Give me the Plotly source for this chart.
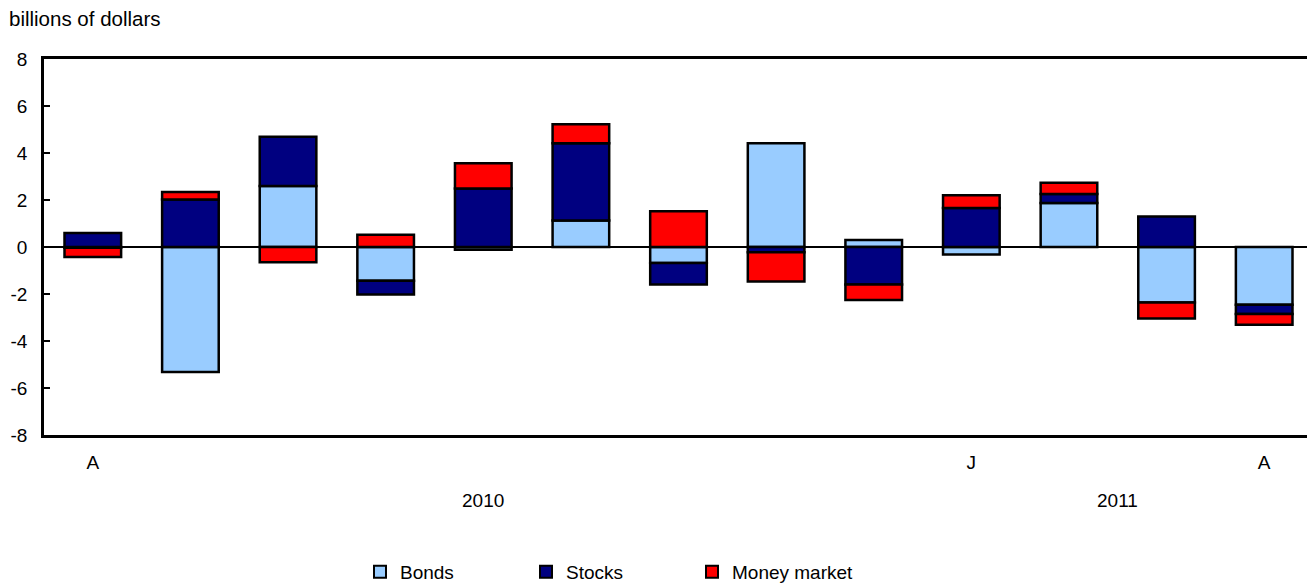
import plotly.graph_objects as go

months = ["Apr 2010", "May 2010", "Jun 2010", "Jul 2010", "Aug 2010", "Sep 2010",
          "Oct 2010", "Nov 2010", "Dec 2010", "Jan 2011", "Feb 2011", "Mar 2011", "Apr 2011"]
tick_labels = ["A", "", "", "", "", "", "", "", "", "J", "", "", "A"]
y_tick_values = [-8, -6, -4, -2, 0, 2, 4, 6, 8]
y_tick_labels = ["-8", "-6", "-4", "-2", "0", "2", "4", "6", "8"]
bonds = [-0.03, -5.32, 2.60, -1.44, -0.12, 1.13, -0.68, 4.41, 0.30, -0.32, 1.87, -2.36, -2.46]
stocks = [0.60, 2.02, 2.09, -0.58, 2.49, 3.28, -0.92, -0.22, -1.60, 1.66, 0.39, 1.30, -0.39]
money_market = [-0.40, 0.32, -0.65, 0.52, 1.07, 0.81, 1.52, -1.25, -0.66, 0.54, 0.47, -0.68, -0.46]
years = ["2010", "2011"]
year_centers = [4, 10.5]

x = list(range(len(months)))
font = "Liberation Sans, Arial, sans-serif"

fig = go.Figure()
for name, vals, color in [("Bonds", bonds, "#99CCFF"),
                          ("Stocks", stocks, "#000080"),
                          ("Money market", money_market, "#FF0000")]:
    fig.add_trace(go.Bar(x=x, y=vals, name=name,
                         marker=dict(color=color, line=dict(color="black", width=2.5)),
                         hovertext=months))

for yr, c in zip(years, year_centers):
    fig.add_annotation(x=c, y=0, xref="x", yref="paper", text=yr, showarrow=False,
                       yanchor="middle", yshift=-65,
                       font=dict(size=19, color="black", family=font))

fig.add_annotation(x=0, y=1, xref="paper", yref="paper", xanchor="left", yanchor="middle",
                   text="billions of dollars", showarrow=False, xshift=-37, yshift=41,
                   font=dict(size=20.5, color="black", family=font))

# page body has an 8px margin, so the figure is sized and placed to compensate
fig.update_layout(
    barmode="relative",
    bargap=0.42,
    width=1307, height=578,
    margin=dict(l=36, r=2, t=51, b=151, autoexpand=False),
    plot_bgcolor="white", paper_bgcolor="white",
    font=dict(family=font, size=19, color="black"),
    showlegend=True,
    legend=dict(orientation="h", x=0.249, xanchor="left", y=-0.364, yanchor="middle",
                entrywidth=121, font=dict(size=19, family=font), itemsizing="constant",
                tracegroupgap=0),
    xaxis=dict(tickvals=x, ticktext=tick_labels, range=[-0.5, 12.5], showline=True, linecolor="black",
               linewidth=2.5, mirror=True, ticks="", showgrid=False, zeroline=False,
               ticklabelstandoff=8, tickfont=dict(size=19)),
    yaxis=dict(range=[-8, 8], tickvals=y_tick_values, ticktext=y_tick_labels,
               showline=True, linecolor="black", linewidth=2.5, mirror=True,
               ticks="inside", ticklen=6, tickwidth=1.5, tickcolor="black", showgrid=False,
               zeroline=True, zerolinecolor="black", zerolinewidth=2,
               ticklabelstandoff=10, tickfont=dict(size=19)),
)

fig.write_html("out.html")
